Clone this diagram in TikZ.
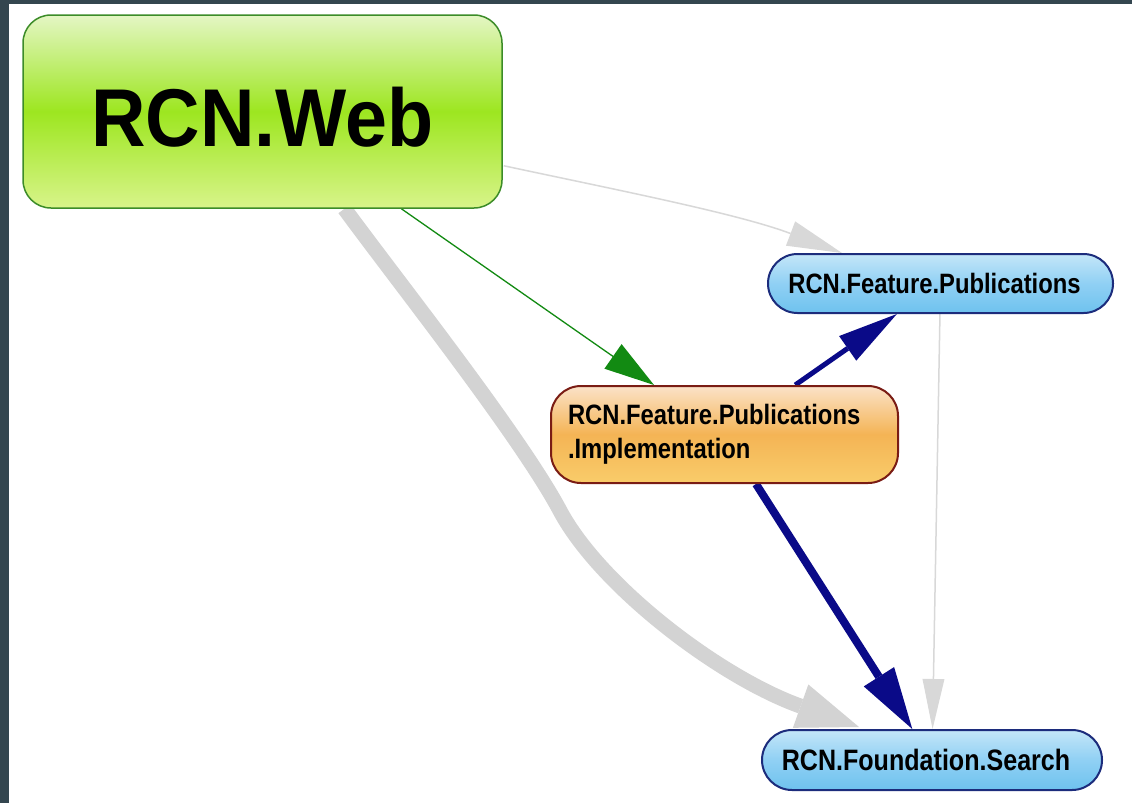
\documentclass[tikz,border=0pt]{standalone}
\usepackage{fontspec}
\setmainfont{Liberation Sans}
\newfontfamily\webfont[FakeStretch=0.92]{Liberation Sans}
\newfontfamily\boxfont[FakeStretch=0.85]{Liberation Sans}
\usetikzlibrary{arrows.meta,calc}
\pgfdeclarelayer{bg}
\pgfdeclarelayer{edges}
\pgfsetlayers{bg,edges,main}
\definecolor{frame}{HTML}{34464F}
\definecolor{webedge}{HTML}{3C8C28}
\definecolor{webtop}{HTML}{E4F6C4}
\definecolor{webmid}{HTML}{9DE620}
\definecolor{webbot}{HTML}{D8F48A}
\definecolor{blueedge}{HTML}{1C2C7C}
\definecolor{bluetop}{HTML}{C4E6F8}
\definecolor{bluemid}{HTML}{90D0F4}
\definecolor{bluebot}{HTML}{6EC2EE}
\definecolor{orgedge}{HTML}{7A1C14}
\definecolor{orgtop}{HTML}{FBE2C8}
\definecolor{orgmid}{HTML}{F4B455}
\definecolor{orgbot}{HTML}{F9CC6A}
\definecolor{lgray}{HTML}{D8D8D8}
\definecolor{tgray}{HTML}{D3D3D3}
\definecolor{dgreen}{HTML}{128A12}
\definecolor{navy}{HTML}{0A0A88}
\begin{document}
\begin{tikzpicture}[x=1pt,y=-1pt,
  webbox/.style={draw=webedge, line width=1.5pt, rounded corners=28pt,
    top color=webtop, bottom color=webbot, middle color=webmid,
    minimum width=479pt, minimum height=193pt, inner sep=0pt,
    font=\webfont\bfseries\fontsize{82}{90}\selectfont},
  pill/.style={draw=blueedge, line width=2pt,
    top color=bluetop, bottom color=bluebot, middle color=bluemid,
    inner sep=0pt},
  implbox/.style={draw=orgedge, line width=2pt, rounded corners=30pt,
    top color=orgtop, bottom color=orgbot, middle color=orgmid,
    text width=313pt, align=left, inner xsep=17pt, inner ysep=0pt,
    minimum height=97pt,
    font=\boxfont\bfseries\fontsize{28}{33.5}\selectfont},
  thinedge/.style={draw=lgray, line width=1.5pt,
    -{Triangle[length=55pt,width=26pt,line width=0pt]}, color=lgray},
  greenedge/.style={draw=dgreen, line width=1.3pt,
    -{Triangle[length=50pt,width=30pt,line width=0pt]}, color=dgreen},
  navyedge/.style={draw=navy, color=navy},
  thickedge/.style={draw=tgray, color=tgray, line width=15pt,
    -{Triangle[length=62pt,width=46pt,line width=0pt]}}
]
\useasboundingbox (0,0) rectangle (1132,803);
\begin{pgfonlayer}{bg}
  \fill[frame] (0,0) rectangle (1132,803);
  \fill[white] (9,4) rectangle (1132,803);
\end{pgfonlayer}

\node[webbox] (web) at (262.5,111.5) {\raisebox{-6pt}[\height][\depth]{RCN.Web}};
\node[pill, rounded corners=29.5pt, minimum width=345pt, minimum height=59pt,
  font=\boxfont\bfseries\fontsize{28}{32}\selectfont]
  (pub) at (940.5,283.5) {RCN.Feature.Publications\hspace*{12pt}};
\node[implbox] (impl) at (724.5,434.5)
  {RCN.Feature.Publications\\.Implementation};
\node[pill, rounded corners=30pt, minimum width=340pt, minimum height=60pt,
  font=\boxfont\bfseries\fontsize{29.5}{34}\selectfont]
  (found) at (932,760) {RCN.Foundation.Search\hspace*{12pt}};

\begin{pgfonlayer}{edges}
  \draw[thickedge] ($(web.south)+(82,0)$)
     .. controls +(55,75) and +(-40,-75) .. ++(215.5,302)
     .. controls +(40,75) and +(-140,-50) .. ($(found.north west)+(98,-2)$);
  \draw[thinedge] ($(web.south east)+(1,-43)$)
     .. controls +(117,25) and +(-103,-39) .. ($(pub.north west)+(75,0)$);
  \draw[greenedge] (web) -- (impl);
  \draw[navyedge, line width=5pt,
     -{Triangle[length=60pt,width=30pt,line width=0pt]}] (impl) -- (pub);
  \draw[navyedge, line width=8pt,
     -{Triangle[length=62pt,width=36pt,line width=0pt]}] (impl) -- (found);
  \draw[thinedge, -{Triangle[length=50pt,width=22pt,line width=0pt]}] (pub) -- (found);
\end{pgfonlayer}
\end{tikzpicture}
\end{document}
